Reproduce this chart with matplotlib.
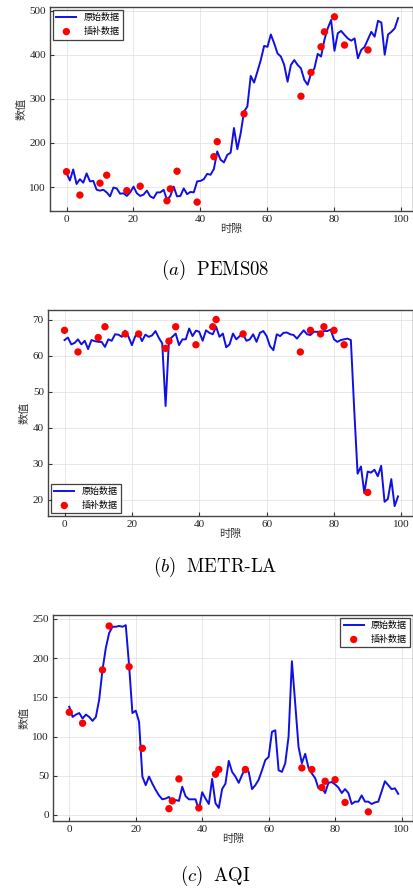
import numpy as np
import matplotlib
matplotlib.use("Agg")
import matplotlib.pyplot as plt

plt.rcParams["font.family"] = ["Liberation Serif", "Noto Sans CJK SC", "DejaVu Sans"]
plt.rcParams["mathtext.fontset"] = "cm"

# =========================
# data
# =========================
slots = np.arange(100)
imp_idx = [0, 4, 10, 12, 18, 22, 30, 31, 33, 39, 44, 45, 53, 70, 73, 76, 77, 80, 83, 90]

pems_raw = [
    132, 115, 140, 107, 118, 110, 131, 113, 114, 94,
    92, 94, 88, 79, 99, 97, 85, 86, 80, 88,
    101, 86, 80, 83, 92, 79, 75, 88, 88, 94,
    71, 80, 101, 79, 80, 97, 84, 89, 88, 113,
    114, 118, 130, 128, 141, 181, 162, 156, 173, 178,
    234, 186, 222, 271, 283, 352, 337, 362, 388, 420,
    418, 446, 426, 403, 396, 377, 339, 377, 388, 377,
    369, 343, 332, 357, 369, 402, 396, 434, 460, 479,
    409, 449, 454, 445, 437, 432, 437, 392, 411, 418,
    435, 452, 441, 477, 473, 400, 446, 452, 460, 483,
]
pems_imp = [135, 82, 109, 127, 92, 102, 69, 96, 136, 66,
            169, 203, 266, 306, 360, 418, 452, 486, 422, 411]

metr_raw = [
    64.3, 65.0, 63.1, 63.5, 64.5, 63.1, 64.1, 61.8, 64.3, 64.0,
    63.8, 63.8, 62.4, 64.5, 64.1, 65.9, 65.8, 65.2, 66.9, 65.2,
    62.9, 65.4, 66.1, 64.0, 65.8, 65.2, 65.6, 66.8, 64.9, 63.4,
    46.0, 64.3, 65.2, 66.1, 62.9, 64.5, 64.5, 67.5, 65.4, 66.9,
    66.6, 64.1, 67.0, 66.3, 65.9, 68.0, 65.2, 66.1, 62.3, 63.1,
    66.1, 64.5, 65.4, 65.9, 64.1, 64.5, 65.9, 63.8, 66.3, 66.8,
    65.4, 62.6, 61.5, 65.9, 65.4, 66.3, 66.4, 65.9, 65.7, 64.7,
    65.9, 67.0, 65.9, 65.7, 66.6, 66.6, 66.5, 66.8, 66.8, 67.2,
    64.5, 63.8, 64.3, 64.5, 64.7, 64.3, 45.0, 27.2, 29.2, 21.8,
    27.8, 27.5, 28.3, 26.5, 29.4, 19.4, 20.2, 25.7, 18.2, 20.9,
]
metr_imp = [67, 61, 65, 68, 66, 66, 62, 64, 68, 63,
            68, 70, 66, 61, 67, 66, 68, 67, 63, 22]

aqi_raw = [
    138, 125, 128, 130, 123, 128, 125, 120, 125, 147,
    185, 213, 232, 240, 240, 241, 240, 242, 191, 130,
    133, 119, 49, 38, 49, 40, 32, 25, 20, 21,
    23, 15, 19, 18, 36, 24, 20, 20, 20, 6,
    29, 21, 14, 46, 15, 9, 33, 40, 69, 55,
    49, 41, 51, 60, 55, 33, 38, 45, 57, 70,
    74, 106, 108, 57, 55, 66, 100, 196, 142, 87,
    66, 78, 60, 53, 47, 34, 35, 28, 41, 42,
    39, 35, 28, 33, 28, 14, 17, 17, 25, 17,
    17, 14, 16, 17, 30, 43, 38, 33, 34, 27,
]
aqi_imp = [131, 117, 185, 241, 189, 85, 8, 18, 46, 9,
           52, 58, 58, 60, 58, 35, 43, 45, 16, 4]

# =========================
# figure
# =========================
fig = plt.figure(figsize=(4.14, 8.9), dpi=100)

panels = [
    # raw, imputed, rect, ylim, yticks, legend loc, caption, caption y
    (pems_raw, pems_imp, [0.121, 0.763, 0.877, 0.229], (46, 508),
     [100, 200, 300, 400, 500], "upper left", r"$(a)\ \ \mathrm{PEMS08}$", 0.697),
    (metr_raw, metr_imp, [0.116, 0.420, 0.882, 0.2315], (15.4, 72.6),
     [20, 30, 40, 50, 60, 70], "lower left", r"$(b)\ \ \mathrm{METR}$-$\mathrm{LA}$", 0.363),
    (aqi_raw, aqi_imp, [0.128, 0.0775, 0.870, 0.2315], (-7.7, 255),
     [0, 50, 100, 150, 200, 250], "upper right", r"$(c)\ \ \mathrm{AQI}$", 0.016),
]

for raw, imp, rect, ylim, yticks, loc, cap, cap_y in panels:
    ax = fig.add_axes(rect)
    ax.plot(slots, raw, color="#1010e6", lw=1.4, label="原始数据", zorder=3)
    ax.scatter(imp_idx, imp, s=28, color="#ff0000", edgecolors="none",
               label="插补数据", zorder=4)
    ax.set_xlim(-4.9, 103.5)
    ax.set_ylim(*ylim)
    ax.set_xticks([0, 20, 40, 60, 80, 100])
    ax.set_yticks(yticks)
    ax.grid(True, color="#e4e4e4", lw=0.6)
    ax.set_axisbelow(True)
    ax.tick_params(direction="in", length=3, width=0.8, labelsize=8,
                   color="#333333", labelcolor="#222222", pad=3)
    for sp in ax.spines.values():
        sp.set_color("#444444")
        sp.set_linewidth(1.0)
    ax.set_xlabel("时隙", fontsize=8, labelpad=0, color="#333333")
    ax.set_ylabel("数值", fontsize=8, labelpad=2, color="#333333")
    leg = ax.legend(loc=loc, fontsize=6.5, frameon=True, fancybox=False,
                    borderaxespad=0.3, handlelength=2.2, borderpad=0.4,
                    labelspacing=0.5, markerscale=1.0)
    leg.get_frame().set_edgecolor("#111111")
    leg.get_frame().set_linewidth(0.9)
    fig.text(0.52, cap_y, cap, ha="center", va="center", fontsize=13.5)

fig.savefig("out.png", dpi=100)
